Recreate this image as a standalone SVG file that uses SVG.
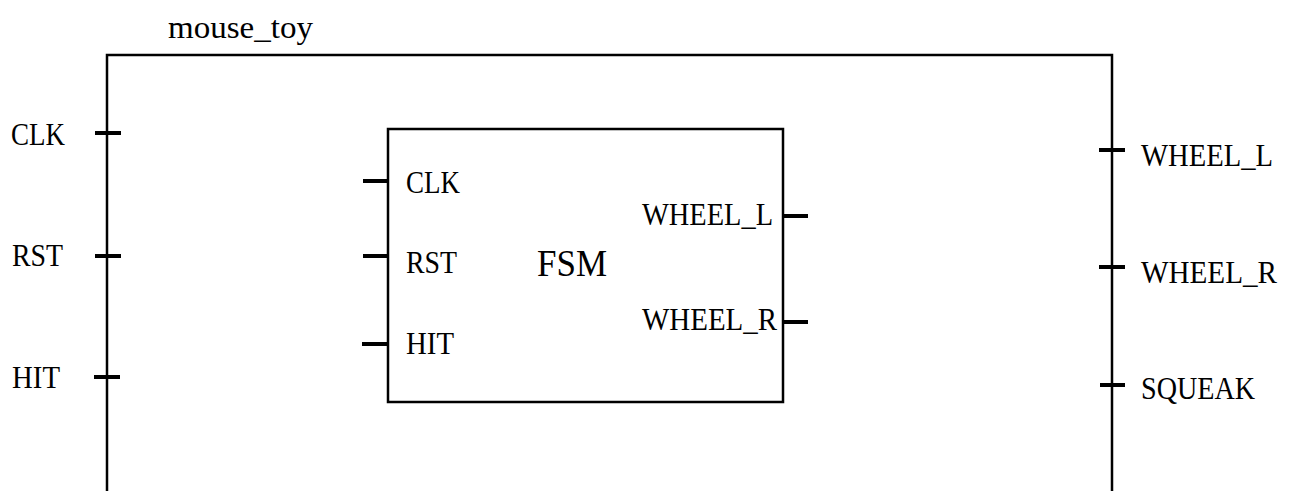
<svg xmlns="http://www.w3.org/2000/svg" width="1293" height="491" viewBox="0 0 1293 491">
<style>
text{font-family:"Liberation Serif","Times New Roman",serif;font-size:30.5px;fill:#000}
.big{font-size:38px}
.ln{stroke:#000;stroke-width:2.5;fill:none}
.tick{stroke:#000;stroke-width:4}
</style>
<rect width="1293" height="491" fill="#fff"/>
<g id="mouse_toy">
<text x="168" y="38" textLength="145" lengthAdjust="spacingAndGlyphs">mouse_toy</text>
<path class="ln" d="M107,491 V55 H1112 V491"/>
</g>
<g id="ports_in">
<line class="tick" x1="95" y1="133" x2="121" y2="133"/>
<line class="tick" x1="95" y1="256" x2="121" y2="256"/>
<line class="tick" x1="94" y1="377" x2="120" y2="377"/>
<text x="11" y="145" textLength="54" lengthAdjust="spacingAndGlyphs">CLK</text>
<text x="12" y="266" textLength="51" lengthAdjust="spacingAndGlyphs">RST</text>
<text x="12" y="388" textLength="48" lengthAdjust="spacingAndGlyphs">HIT</text>
</g>
<g id="ports_out">
<line class="tick" x1="1099" y1="150" x2="1125" y2="150"/>
<line class="tick" x1="1099" y1="267" x2="1125" y2="267"/>
<line class="tick" x1="1100" y1="385" x2="1125" y2="385"/>
<text x="1141" y="166" textLength="132" lengthAdjust="spacingAndGlyphs">WHEEL_L</text>
<text x="1141" y="283" textLength="136" lengthAdjust="spacingAndGlyphs">WHEEL_R</text>
<text x="1141" y="399" textLength="114" lengthAdjust="spacingAndGlyphs">SQUEAK</text>
</g>
<g id="FSM">
<rect class="ln" x="388" y="129" width="395" height="273"/>
<line class="tick" x1="363" y1="181" x2="388" y2="181"/>
<line class="tick" x1="363" y1="256" x2="388" y2="256"/>
<line class="tick" x1="362" y1="344" x2="388" y2="344"/>
<line class="tick" x1="783" y1="216" x2="808" y2="216"/>
<line class="tick" x1="783" y1="322" x2="808" y2="322"/>
<text x="406" y="193" textLength="54" lengthAdjust="spacingAndGlyphs">CLK</text>
<text x="406" y="273" textLength="51" lengthAdjust="spacingAndGlyphs">RST</text>
<text x="406" y="354" textLength="48" lengthAdjust="spacingAndGlyphs">HIT</text>
<text class="big" x="537" y="276" textLength="70" lengthAdjust="spacingAndGlyphs">FSM</text>
<text x="642" y="225" textLength="131" lengthAdjust="spacingAndGlyphs">WHEEL_L</text>
<text x="642" y="330" textLength="135" lengthAdjust="spacingAndGlyphs">WHEEL_R</text>
</g>
</svg>
